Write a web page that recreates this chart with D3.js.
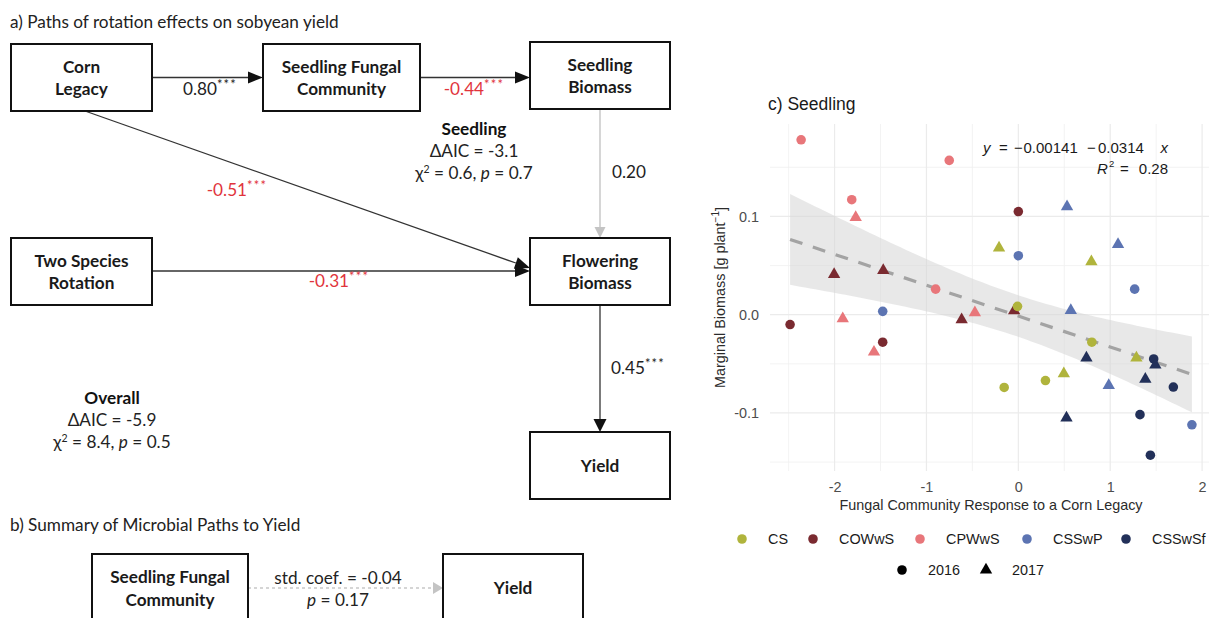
<!DOCTYPE html>
<html>
<head>
<meta charset="utf-8">
<script src="https://cdn.jsdelivr.net/npm/d3@7"></script>
<style>
  body { margin: 0; background: #ffffff; }
  svg { display: block; }
</style>
</head>
<body>
<svg id="fig" width="1209" height="618"></svg>
<script>
// ---------------- Panel c: seedling marginal biomass ----------------
const rotations = ["CS", "COWwS", "CPWwS", "CSSwP", "CSSwSf"];
const rotationColors = ["#b0b43c", "#7a2a30", "#e8767a", "#5c74b2", "#223059"];
const years = ["2016", "2017"];

// one entry per plot (rotation, sampling year, fungal response, marginal biomass)
const pointRotation = [
  "CPWwS","CPWwS","CPWwS","CPWwS","CPWwS","CPWwS","CPWwS","CPWwS",
  "COWwS","COWwS","COWwS","COWwS","COWwS","COWwS","COWwS",
  "CS","CS","CS","CS","CS","CS","CS","CS",
  "CSSwP","CSSwP","CSSwP","CSSwP","CSSwP","CSSwP","CSSwP","CSSwP",
  "CSSwSf","CSSwSf","CSSwSf","CSSwSf","CSSwSf","CSSwSf","CSSwSf","CSSwSf"
];
const pointYear = [
  "2016","2016","2016","2017","2016","2017","2017","2017",
  "2017","2017","2016","2016","2016","2017","2017",
  "2017","2017","2016","2016","2017","2017","2016","2016",
  "2017","2016","2017","2016","2016","2017","2017","2016",
  "2017","2016","2017","2017","2016","2016","2017","2016"
];
const fungalResponse = [
  -2.364, -0.752, -1.813, -1.770, -0.900, -1.911, -1.571, -0.473,
  -2.005, -1.470, 0.000, -2.484, -1.476, -0.617, -0.046,
  -0.210, 0.795, -0.009, 0.800, 1.285, 0.495, 0.295, -0.154,
  0.530, 0.000, 1.085, 1.266, -1.476, 0.571, 0.984, 1.889,
  0.741, 1.473, 1.491, 1.382, 1.687, 1.324, 0.524, 1.437
];
const marginalBiomass = [
  0.178, 0.157, 0.117, 0.099, 0.026, -0.004, -0.038, 0.002,
  0.041, 0.045, 0.105, -0.010, -0.028, -0.005, 0.004,
  0.068, 0.054, 0.0085, -0.028, -0.044, -0.060, -0.067, -0.074,
  0.110, 0.060, 0.0715, 0.026, 0.0034, 0.0044, -0.072, -0.112,
  -0.044, -0.045, -0.051, -0.0655, -0.0736, -0.1017, -0.105, -0.143
];

// fitted linear model shown in the panel
const fitIntercept = -0.00141;
const fitSlope = -0.0314;
const fitR2 = "0.28";

const xTicks = [-2, -1, 0, 1, 2];
const xMinorTicks = [-2.5, -1.5, -0.5, 0.5, 1.5];
const yTicks = [-0.1, 0.0, 0.1];
const yMinorTicks = [-0.15, -0.05, 0.05, 0.15];

// ---------------- Panel a: path model ----------------
const pathNodes = [
  { id: "corn", lines: ["Corn", "Legacy"] },
  { id: "sfc", lines: ["Seedling Fungal", "Community"] },
  { id: "sbio", lines: ["Seedling", "Biomass"] },
  { id: "rot", lines: ["Two Species", "Rotation"] },
  { id: "fbio", lines: ["Flowering", "Biomass"] },
  { id: "yield", lines: ["Yield"] }
];
const pathEdges = [
  { from: "corn", to: "sfc", coef: "0.80", stars: "***" },
  { from: "sfc", to: "sbio", coef: "-0.44", stars: "***" },
  { from: "sbio", to: "fbio", coef: "0.20", stars: "" },
  { from: "corn", to: "fbio", coef: "-0.51", stars: "***" },
  { from: "rot", to: "fbio", coef: "-0.31", stars: "***" },
  { from: "fbio", to: "yield", coef: "0.45", stars: "***" }
];
const seedlingFit = { title: "Seedling", dAIC: "-3.1", chi2: "0.6", p: "0.7" };
const overallFit = { title: "Overall", dAIC: "-5.9", chi2: "8.4", p: "0.5" };

// ---------------- Panel b: microbial path summary ----------------
const summaryNodes = [
  { id: "sfc", lines: ["Seedling Fungal", "Community"] },
  { id: "yield", lines: ["Yield"] }
];
const summaryEdge = { coef: "-0.04", p: "0.17" };

// ====================================================================
const svg = d3.select("#fig");
svg.append("rect").attr("width", 1209).attr("height", 618).attr("fill", "#ffffff");

const diagramFont = "Lato, 'Open Sans', sans-serif";
const plotFont = "'Liberation Sans', Arial, sans-serif";
const RED = "#e1343c";
const FS = 17.2;

// ---- layout of the path diagram (box rectangles and edge routes) ----
const boxLayout = {
  corn: [11, 44, 141, 67],
  sfc: [263, 44, 157, 67],
  sbio: [530, 42, 140, 67],
  rot: [11, 238, 141, 67],
  fbio: [530, 238, 140, 67],
  yield: [530, 432, 140, 67]
};
const edgeLayout = {
  "corn-sfc":  { p: [152, 77.5, 263, 77.5], label: [210, 89] },
  "sfc-sbio":  { p: [420, 77.5, 530, 77.5], label: [474, 89] },
  "sbio-fbio": { p: [600, 109, 600, 238], label: [629, 172] },
  "corn-fbio": { p: [85, 111, 530, 268], label: [237, 190] },
  "rot-fbio":  { p: [152, 271, 530, 271], label: [339, 281] },
  "fbio-yield":{ p: [600, 305, 600, 432], label: [638, 368] }
};

function drawArrow(g, x1, y1, x2, y2, opts) {
  const len = opts.headLen, half = opts.headHalf;
  const ang = Math.atan2(y2 - y1, x2 - x1);
  const bx = x2 - len * Math.cos(ang), by = y2 - len * Math.sin(ang);
  g.append("line")
    .attr("x1", x1).attr("y1", y1).attr("x2", bx).attr("y2", by)
    .attr("stroke", opts.color).attr("stroke-width", opts.width)
    .attr("stroke-dasharray", opts.dash || null);
  const nx = -Math.sin(ang), ny = Math.cos(ang);
  g.append("path")
    .attr("d", `M${x2},${y2}L${bx + nx * half},${by + ny * half}L${bx - nx * half},${by - ny * half}Z`)
    .attr("fill", opts.headColor || opts.color);
}

function drawBox(g, rect, lines, lineGap) {
  const [x, y, w, h] = rect;
  g.append("rect").attr("x", x).attr("y", y).attr("width", w).attr("height", h)
    .attr("fill", "#ffffff").attr("stroke", "#111").attr("stroke-width", 2);
  const cy = y + h / 2;
  lines.forEach((t, i) => {
    const off = (i - (lines.length - 1) / 2) * lineGap;
    g.append("text")
      .attr("x", x + w / 2).attr("y", cy + off).attr("dy", "0.35em")
      .attr("text-anchor", "middle")
      .attr("font-family", diagramFont).attr("font-weight", 700)
      .attr("font-size", FS).attr("fill", "#1a1a1a")
      .text(t);
  });
}

function coefLabel(g, x, y, coef, stars) {
  const neg = coef.startsWith("-");
  const t = g.append("text")
    .attr("x", x).attr("y", y).attr("dy", "0.35em")
    .attr("text-anchor", "middle")
    .attr("font-family", diagramFont).attr("font-size", FS)
    .attr("fill", neg ? RED : "#222");
  t.append("tspan").text(coef);
  if (stars) {
    t.append("tspan").attr("font-size", 13).attr("dy", "-0.5em")
      .attr("letter-spacing", 1.2).text(stars);
  }
}

function fitStats(g, cx, cy, fit) {
  g.append("text").attr("x", cx).attr("y", cy).attr("dy", "0.35em")
    .attr("text-anchor", "middle").attr("font-family", diagramFont)
    .attr("font-weight", 700).attr("font-size", FS).attr("fill", "#111")
    .text(fit.title);
  g.append("text").attr("x", cx).attr("y", cy + 22).attr("dy", "0.35em")
    .attr("text-anchor", "middle").attr("font-family", diagramFont)
    .attr("font-size", FS).attr("fill", "#222")
    .text(`\u0394AIC = ${fit.dAIC}`);
  const t = g.append("text").attr("x", cx).attr("y", cy + 44).attr("dy", "0.35em")
    .attr("text-anchor", "middle").attr("font-family", diagramFont)
    .attr("font-size", FS).attr("fill", "#222");
  t.append("tspan").text("\u03c7");
  t.append("tspan").attr("font-size", 10.5).attr("dy", "-0.6em").text("2");
  t.append("tspan").attr("dy", "0.38em").text(` = ${fit.chi2}, `);
  t.append("tspan").attr("font-style", "italic").text("p");
  t.append("tspan").text(` = ${fit.p}`);
}

// ---- panel a ----
const ga = svg.append("g");
ga.append("text").attr("x", 10).attr("y", 22).attr("dy", "0.35em")
  .attr("font-family", diagramFont).attr("font-size", FS).attr("fill", "#222")
  .text("a) Paths of rotation effects on sobyean yield");

pathEdges.forEach(e => {
  const L = edgeLayout[`${e.from}-${e.to}`];
  const nonsig = e.stars === "";
  const isLong = e.from === "fbio";
  drawArrow(ga, L.p[0], L.p[1], L.p[2], L.p[3], {
    color: nonsig ? "#c4c4c4" : "#333",
    headColor: nonsig ? "#c4c4c4" : "#111",
    width: nonsig ? 1.4 : 1.3,
    headLen: nonsig ? 11 : (isLong ? 13 : 15),
    headHalf: nonsig ? 5.5 : (isLong ? 6.5 : 6)
  });
  coefLabel(ga, L.label[0], L.label[1], e.coef, e.stars);
});
pathNodes.forEach(n => drawBox(ga, boxLayout[n.id], n.lines, 22));
fitStats(ga, 474, 129, seedlingFit);
fitStats(ga, 112, 398, overallFit);

// ---- panel b ----
const gb = svg.append("g");
gb.append("text").attr("x", 10).attr("y", 525).attr("dy", "0.35em")
  .attr("font-family", diagramFont).attr("font-size", FS).attr("fill", "#222")
  .text("b) Summary of Microbial Paths to Yield");
const summaryLayout = { sfc: [92, 554, 156, 90], yield: [443, 554, 140, 90] };
drawArrow(gb, 248, 588, 443, 588, {
  color: "#c8c8c8", headColor: "#c4c4c4", width: 1.4, dash: "3,3",
  headLen: 10, headHalf: 6
});
const sfcBox = summaryLayout.sfc;
gb.append("rect").attr("x", sfcBox[0]).attr("y", sfcBox[1]).attr("width", sfcBox[2]).attr("height", sfcBox[3])
  .attr("fill", "#fff").attr("stroke", "#111").attr("stroke-width", 2);
summaryNodes[0].lines.forEach((t, i) => {
  gb.append("text").attr("x", sfcBox[0] + sfcBox[2] / 2).attr("y", 577 + i * 23).attr("dy", "0.35em")
    .attr("text-anchor", "middle").attr("font-family", diagramFont).attr("font-weight", 700)
    .attr("font-size", FS).attr("fill", "#1a1a1a").text(t);
});
const yBox = summaryLayout.yield;
gb.append("rect").attr("x", yBox[0]).attr("y", yBox[1]).attr("width", yBox[2]).attr("height", yBox[3])
  .attr("fill", "#fff").attr("stroke", "#111").attr("stroke-width", 2);
gb.append("text").attr("x", yBox[0] + yBox[2] / 2).attr("y", 588).attr("dy", "0.35em")
  .attr("text-anchor", "middle").attr("font-family", diagramFont).attr("font-weight", 700)
  .attr("font-size", FS).attr("fill", "#1a1a1a").text(summaryNodes[1].lines[0]);
gb.append("text").attr("x", 338).attr("y", 578).attr("dy", "0.35em")
  .attr("text-anchor", "middle").attr("font-family", diagramFont)
  .attr("font-size", FS).attr("fill", "#222").text(`std. coef. = ${summaryEdge.coef}`);
const pt = gb.append("text").attr("x", 338).attr("y", 600).attr("dy", "0.35em")
  .attr("text-anchor", "middle").attr("font-family", diagramFont)
  .attr("font-size", FS).attr("fill", "#222");
pt.append("tspan").attr("font-style", "italic").text("p");
pt.append("tspan").text(` = ${summaryEdge.p}`);

// ---- panel c ----
const gc = svg.append("g");
const panel = { left: 770, right: 1212, top: 124, bottom: 471 };

function expanded(vals, frac) {
  const [lo, hi] = d3.extent(vals);
  const pad = (hi - lo) * frac;
  return [lo - pad, hi + pad];
}
const x = d3.scaleLinear().domain(expanded(fungalResponse, 0.05)).range([panel.left, panel.right]);
const y = d3.scaleLinear().domain(expanded(marginalBiomass, 0.05)).range([panel.bottom, panel.top]);
const color = d3.scaleOrdinal().domain(rotations).range(rotationColors);

// grid
const grid = gc.append("g");
grid.selectAll(".vminor").data(xMinorTicks).join("line")
  .attr("x1", d => x(d)).attr("x2", d => x(d)).attr("y1", panel.top).attr("y2", panel.bottom)
  .attr("stroke", "#f0f0f0").attr("stroke-width", 0.8);
grid.selectAll(".hminor").data(yMinorTicks).join("line")
  .attr("y1", d => y(d)).attr("y2", d => y(d)).attr("x1", panel.left).attr("x2", panel.right)
  .attr("stroke", "#f0f0f0").attr("stroke-width", 0.8);
grid.selectAll(".vmajor").data(xTicks).join("line")
  .attr("x1", d => x(d)).attr("x2", d => x(d)).attr("y1", panel.top).attr("y2", panel.bottom)
  .attr("stroke", "#ebebeb").attr("stroke-width", 1.2);
grid.selectAll(".hmajor").data(yTicks).join("line")
  .attr("y1", d => y(d)).attr("y2", d => y(d)).attr("x1", panel.left).attr("x2", panel.right)
  .attr("stroke", "#ebebeb").attr("stroke-width", 1.2);

// 95% confidence band of the fitted line
const n = fungalResponse.length;
const xbar = d3.mean(fungalResponse);
const sxx = d3.sum(fungalResponse, v => (v - xbar) ** 2);
const sse = d3.sum(fungalResponse, (v, i) => (marginalBiomass[i] - (fitIntercept + fitSlope * v)) ** 2);
const sRes = Math.sqrt(sse / (n - 2));
const tCrit = 2.026;
const [fx0, fx1] = d3.extent(fungalResponse);
const bandX = d3.range(0, 81).map(i => fx0 + (fx1 - fx0) * i / 80);
const band = bandX.map(v => {
  const fit = fitIntercept + fitSlope * v;
  const hw = tCrit * sRes * Math.sqrt(1 / n + (v - xbar) ** 2 / sxx);
  return { x: v, lo: fit - hw, hi: fit + hw };
});
gc.append("path").datum(band)
  .attr("d", d3.area().x(d => x(d.x)).y0(d => y(d.lo)).y1(d => y(d.hi)))
  .attr("fill", "#d6d6d6").attr("fill-opacity", 0.55);
gc.append("line")
  .attr("x1", x(fx0)).attr("y1", y(fitIntercept + fitSlope * fx0))
  .attr("x2", x(fx1)).attr("y2", y(fitIntercept + fitSlope * fx1))
  .attr("stroke", "#a3a3a3").attr("stroke-width", 3.2).attr("stroke-dasharray", "13,11");

// points
const symCircle = d3.symbol().type(d3.symbolCircle).size(72);
const symTri = d3.symbol().type(d3.symbolTriangle).size(66);
gc.selectAll(".pt").data(d3.range(n)).join("path")
  .attr("transform", i => `translate(${x(fungalResponse[i])},${y(marginalBiomass[i])})`)
  .attr("d", i => pointYear[i] === years[0] ? symCircle() : symTri())
  .attr("fill", i => color(pointRotation[i]));

// axes
const xAxis = gc.append("g").attr("transform", `translate(0,${panel.bottom + 8})`)
  .call(d3.axisBottom(x).tickValues(xTicks).tickSize(0).tickFormat(d3.format("d")));
xAxis.select(".domain").remove();
xAxis.selectAll("text").attr("font-family", plotFont).attr("font-size", 14.4).attr("fill", "#4d4d4d")
  .text(d => d < 0 ? "-" + Math.abs(d) : String(d));
const yAxis = gc.append("g").attr("transform", `translate(${panel.left - 8},0)`)
  .call(d3.axisLeft(y).tickValues(yTicks).tickSize(0));
yAxis.select(".domain").remove();
yAxis.selectAll("text").attr("font-family", plotFont).attr("font-size", 14.4).attr("fill", "#4d4d4d")
  .text(d => d < 0 ? "-" + Math.abs(d).toFixed(1) : d.toFixed(1));

gc.append("text").attr("x", (panel.left + panel.right) / 2).attr("y", 505).attr("dy", "0.35em")
  .attr("text-anchor", "middle").attr("font-family", plotFont).attr("font-size", 14.4).attr("fill", "#2b2b2b")
  .text("Fungal Community Response to a Corn Legacy");
const yt = gc.append("text").attr("transform", `translate(720,${(panel.top + panel.bottom) / 2}) rotate(-90)`)
  .attr("text-anchor", "middle").attr("dy", "0.35em").attr("font-family", plotFont)
  .attr("font-size", 14.4).attr("fill", "#2b2b2b");
yt.append("tspan").text("Marginal Biomass [g plant");
yt.append("tspan").attr("font-size", 10).attr("dy", "-0.6em").text("\u22121");
yt.append("tspan").attr("dy", "0.45em").text("]");

gc.append("text").attr("x", 768).attr("y", 104).attr("dy", "0.35em")
  .attr("font-family", plotFont).attr("font-size", 17.5).attr("fill", "#1a1a1a")
  .text("c) Seedling");

// regression equation, set piece by piece with plotmath-like spacing
const eqFont = 15;
const eqLine1 = [
  { t: "y", x: 983, italic: true },
  { t: "=", x: 999 },
  { t: "\u2212", x: 1014 },
  { t: String(Math.abs(fitIntercept)), x: 1023.5 },
  { t: "\u2212", x: 1087 },
  { t: String(Math.abs(fitSlope)), x: 1098 },
  { t: "x", x: 1160.5, italic: true }
];
const eqG = gc.append("g").attr("font-family", plotFont).attr("font-size", eqFont).attr("fill", "#1a1a1a");
eqLine1.forEach(p => {
  eqG.append("text").attr("x", p.x).attr("y", 147.5).attr("dy", "0.35em")
    .attr("font-style", p.italic ? "italic" : null).text(p.t);
});
eqG.append("text").attr("x", 1097).attr("y", 169).attr("dy", "0.35em").attr("font-style", "italic").text("R");
eqG.append("text").attr("x", 1109).attr("y", 164).attr("dy", "0.35em").attr("font-size", 9.5).text("2");
eqG.append("text").attr("x", 1120).attr("y", 169).attr("dy", "0.35em").text("=");
eqG.append("text").attr("x", 1168).attr("y", 169).attr("dy", "0.35em").attr("text-anchor", "end").text(fitR2);

// legend: rotations
const legendRow1 = [742, 813, 920, 1027, 1126];
const leg = gc.append("g");
rotations.forEach((r, i) => {
  leg.append("path").attr("transform", `translate(${legendRow1[i]},539)`)
    .attr("d", symCircle()).attr("fill", rotationColors[i]);
  leg.append("text").attr("x", legendRow1[i] + 26).attr("y", 539).attr("dy", "0.35em")
    .attr("font-family", plotFont).attr("font-size", 14.4).attr("fill", "#1a1a1a").text(r);
});
// legend: years
const legendRow2 = [902, 986];
years.forEach((yr, i) => {
  leg.append("path").attr("transform", `translate(${legendRow2[i]},570)`)
    .attr("d", i === 0 ? symCircle() : symTri()).attr("fill", "#000");
  leg.append("text").attr("x", legendRow2[i] + 26).attr("y", 570).attr("dy", "0.35em")
    .attr("font-family", plotFont).attr("font-size", 14.4).attr("fill", "#1a1a1a").text(yr);
});
</script>
</body>
</html>
